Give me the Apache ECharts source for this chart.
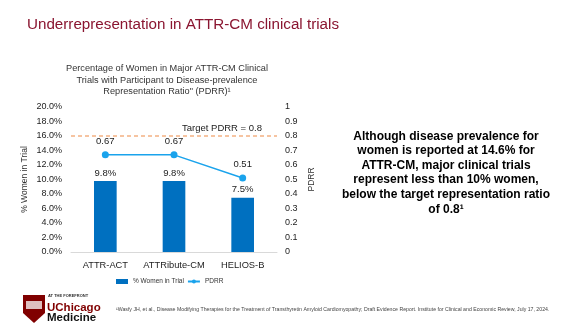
<!DOCTYPE html>
<html><head><meta charset="utf-8">
<script src="https://cdn.jsdelivr.net/npm/echarts@6/dist/echarts.min.js"></script>
<style>html,body{margin:0;padding:0;background:#fff}#c{width:580px;height:326px}</style>
</head><body><div id="c"></div>
<script>
const categories = ['ATTR-ACT', 'ATTRibute-CM', 'HELIOS-B'];
const womenPct = [9.8, 9.8, 7.5];
const pdrr = [0.67, 0.67, 0.51];
const targetPdrr = 0.8;
const leftTicks = { min: 0, max: 20, interval: 2 };
const rightTicks = { min: 0, max: 1, interval: 0.1 };

const F = 'Liberation Sans, Arial, sans-serif';
const chart = echarts.init(document.getElementById('c'), null, { renderer: 'canvas' });
chart.setOption({
  animation: false,
  backgroundColor: '#fff',
  textStyle: { fontFamily: F },
  title: [
    { text: 'Underrepresentation in ATTR-CM clinical trials', left: 27, top: 17, padding: 0,
      textStyle: { fontFamily: F, fontSize: 15.2, fontWeight: 'normal', color: '#8A1530' } },
    { text: 'Percentage of Women in Major ATTR-CM Clinical\nTrials with Participant to Disease-prevalence\nRepresentation Ratio" (PDRR)\u00B9',
      left: 167, textAlign: 'center', top: 63, padding: 0,
      textStyle: { fontFamily: F, fontSize: 9.2, fontWeight: 'normal', color: '#333', lineHeight: 11.5 } }
  ],
  grid: { left: 71, right: 303, top: 107, bottom: 74 },
  legend: {
    bottom: 36, left: 111, itemGap: 3, itemWidth: 12, itemHeight: 5,
    textStyle: { fontFamily: F, fontSize: 6.5, color: '#333' },
    data: [{ name: '% Women in Trial', icon: 'rect' }, { name: 'PDRR' }]
  },
  xAxis: {
    type: 'category', data: categories,
    axisLine: { lineStyle: { color: '#d9d9d9' } }, axisTick: { show: false },
    axisLabel: { fontFamily: F, fontSize: 9.3, color: '#222', margin: 9, interval: 0 }
  },
  yAxis: [
    { type: 'value', min: leftTicks.min, max: leftTicks.max, interval: leftTicks.interval,
      name: '% Women in Trial', nameLocation: 'middle', nameGap: 42, nameRotate: 90,
      nameTextStyle: { fontFamily: F, fontSize: 8.5, color: '#333' },
      splitLine: { show: false }, axisLine: { show: false }, axisTick: { show: false },
      axisLabel: { fontFamily: F, fontSize: 9, color: '#222', margin: 9, formatter: v => v.toFixed(1) + '%' } },
    { type: 'value', min: rightTicks.min, max: rightTicks.max, interval: rightTicks.interval,
      name: 'PDRR', nameLocation: 'middle', nameGap: 30, nameRotate: 90,
      nameTextStyle: { fontFamily: F, fontSize: 8.5, color: '#333' },
      splitLine: { show: false }, axisLine: { show: false }, axisTick: { show: false },
      axisLabel: { fontFamily: F, fontSize: 9, color: '#222', margin: 8, formatter: v => String(+v.toFixed(1)) } }
  ],
  series: [
    { name: '% Women in Trial', type: 'bar', data: womenPct, barWidth: '33%', yAxisIndex: 0,
      itemStyle: { color: '#0070C0' },
      label: { show: true, position: 'top', distance: 3, fontFamily: F, fontSize: 9.5, color: '#222',
        formatter: p => p.value.toFixed(1) + '%' } },
    { name: 'PDRR', type: 'line', data: pdrr, yAxisIndex: 1, symbol: 'circle', symbolSize: 7,
      lineStyle: { color: '#1AA3EC', width: 1.5 }, itemStyle: { color: '#1AA3EC' },
      label: { show: true, position: 'top', distance: 5, fontFamily: F, fontSize: 9.5, color: '#222',
        formatter: p => p.value.toFixed(2) },
      markLine: { silent: true, symbol: 'none',
        lineStyle: { type: [4, 3], color: '#F4B183', width: 1.5 },
        label: { show: true, position: 'insideEndTop', distance: [15, 3], fontFamily: F, fontSize: 9.5, color: '#222',
          formatter: 'Target PDRR = ' + targetPdrr },
        data: [{ yAxis: targetPdrr }] } }
  ],
  graphic: [
    { type: 'text', x: 446, y: 129,
      style: { text: 'Although disease prevalence for\nwomen is reported at 14.6% for\nATTR-CM, major clinical trials\nrepresent less than 10% women,\nbelow the target representation ratio\nof 0.8\u00B9',
        font: 'bold 12px ' + F, fill: '#000', textAlign: 'center', textVerticalAlign: 'top', lineHeight: 14.6 } },
    { type: 'polygon', shape: { points: [[23,295],[45,295],[45,313],[34,323],[23,313]] },
      style: { fill: '#800000' } },
    { type: 'rect', shape: { x: 26, y: 301, width: 16, height: 8 }, style: { fill: '#fff', opacity: 0.75 } },
    { type: 'text', x: 48, y: 294, style: { text: 'AT THE FOREFRONT', font: 'bold 4px ' + F, fill: '#333' } },
    { type: 'text', x: 47, y: 302, style: { text: 'UChicago', font: 'bold 11.5px ' + F, fill: '#800000' } },
    { type: 'text', x: 47, y: 312, style: { text: 'Medicine', font: 'bold 11.5px ' + F, fill: '#111' } },
    { type: 'text', x: 116, y: 307, style: { text: '\u00B9Wasfy JH, et al., Disease Modifying Therapies for the Treatment of Transthyretin Amyloid Cardiomyopathy; Draft Evidence Report. Institute for Clinical and Economic Review, July 17, 2024.',
      font: '5.2px ' + F, fill: '#444' } }
  ]
});
</script></body></html>
